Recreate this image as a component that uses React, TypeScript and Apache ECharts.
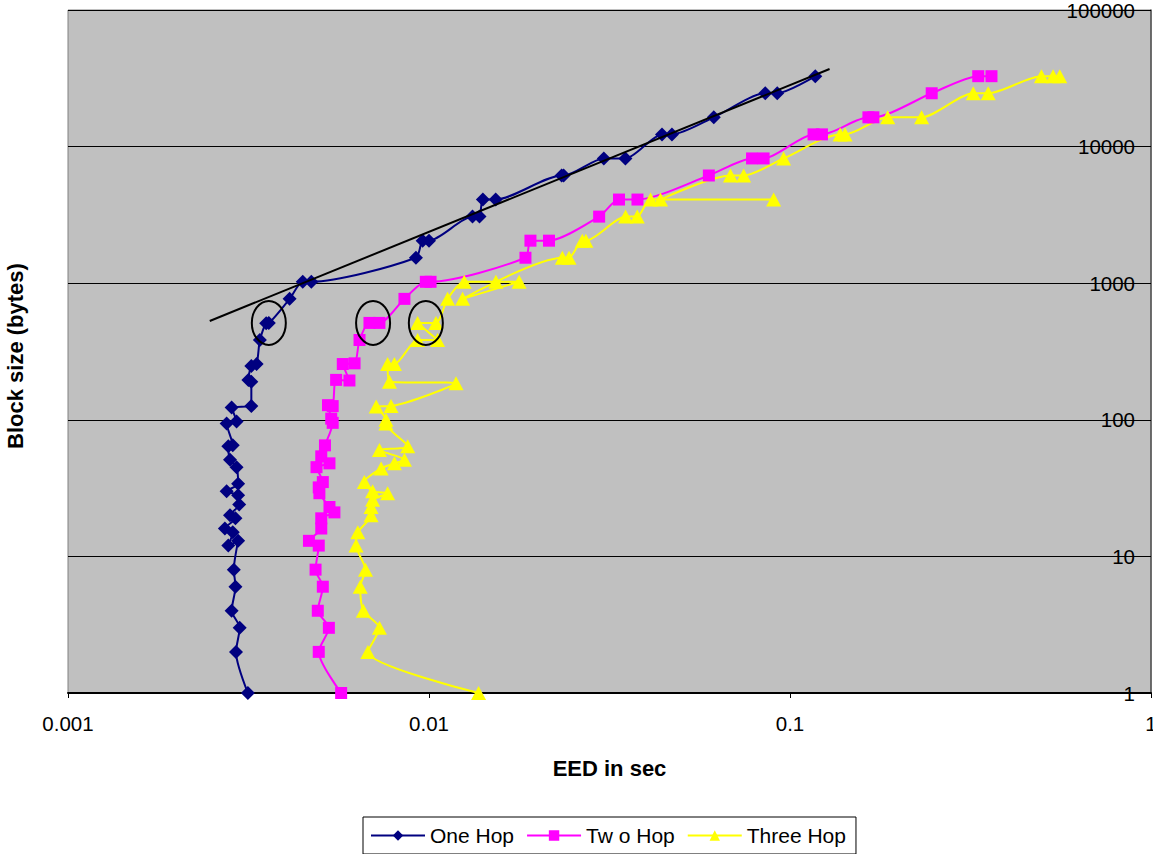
import React, { useEffect, useRef } from "react";
import * as echarts from "echarts";

// End-to-end delay (seconds) against block size (bytes), one row per measurement, in plotting order.
const oneHopEed = [
  0.00315, 0.00292, 0.00299, 0.00284, 0.00291, 0.00288, 0.00296, 0.00278, 0.00286, 0.00272,
  0.00291, 0.00281, 0.00298, 0.00296, 0.00275, 0.00296, 0.00293, 0.00281, 0.00278, 0.00286,
  0.00275, 0.00293, 0.00284, 0.00322, 0.00322, 0.00316, 0.00322, 0.00333, 0.0034, 0.00354,
  0.0036, 0.00411, 0.00447, 0.00472, 0.0092, 0.0096, 0.01, 0.0132, 0.0138, 0.0141,
  0.0153, 0.0233, 0.0236, 0.0305, 0.035, 0.0442, 0.0471, 0.0615, 0.0854, 0.0922, 0.1175,
];
const oneHopBlock = [
  1, 2, 3, 4, 6, 8, 13, 12, 15, 16,
  19, 20, 24, 28, 30, 34, 45, 51, 64, 65,
  94, 97, 123, 126, 190, 196, 248, 256, 384, 509,
  512, 768, 1024, 1024, 1536, 2048, 2048, 3072, 3072, 4096,
  4096, 6144, 6144, 8192, 8192, 12288, 12288, 16384, 24576, 24576, 32768,
];

const twoHopEed = [
  0.00571, 0.00495, 0.00528, 0.00492, 0.00508, 0.00485, 0.00495, 0.00465, 0.00503, 0.00503,
  0.00547, 0.0053, 0.00497, 0.00495, 0.00508, 0.00488, 0.0053, 0.00503, 0.00515, 0.00541,
  0.00536, 0.00525, 0.00541, 0.00553, 0.00602, 0.00577, 0.00622, 0.00642, 0.00684, 0.00729,
  0.00855, 0.0098, 0.0101, 0.0185, 0.0191, 0.0215, 0.0296, 0.0336, 0.0378, 0.0596,
  0.0785, 0.0845, 0.1162, 0.1226, 0.1649, 0.1702, 0.2469, 0.3322, 0.3615,
];
const twoHopBlock = [
  1, 2, 3, 4, 6, 8, 12, 13, 16, 19,
  21, 23, 29, 32, 35, 45, 48, 54, 65, 95,
  102, 128, 126, 196, 194, 256, 259, 384, 512, 512,
  768, 1024, 1024, 1536, 2048, 2048, 3072, 4096, 4096, 6144,
  8192, 8192, 12288, 12288, 16384, 16384, 24576, 32768, 32768,
];

const threeHopEed = [
  0.01372, 0.00677, 0.00729, 0.00658, 0.00645, 0.00667, 0.00628, 0.00635, 0.00691, 0.00691,
  0.00698, 0.00768, 0.00698, 0.00662, 0.00737, 0.00802, 0.00855, 0.00729, 0.00873, 0.0076,
  0.0076, 0.00714, 0.00785, 0.01188, 0.00777, 0.00768, 0.00802, 0.0093, 0.01056, 0.0093,
  0.01045, 0.01126, 0.01252, 0.01532, 0.01777, 0.01239, 0.02341, 0.02443, 0.02659, 0.0272,
  0.03504, 0.03775, 0.0411, 0.0901, 0.04378, 0.0684, 0.0744, 0.096, 0.1377, 0.1421,
  0.1865, 0.2315, 0.3218, 0.354, 0.4972, 0.5356, 0.5588,
];
const threeHopBlock = [
  1, 2, 3, 4, 6, 8, 12, 15, 20, 23,
  26, 29, 30, 35, 44, 48, 51, 60, 64, 94,
  100, 125, 126, 185, 190, 256, 256, 384, 384, 512,
  512, 768, 1024, 1024, 1024, 768, 1536, 1536, 2048, 2048,
  3072, 3072, 4096, 4096, 4096, 6144, 6144, 8192, 12288, 12288,
  16384, 16384, 24576, 24576, 32768, 32768, 32768,
];

// Straight reference line drawn along the one-hop trend.
const trendEed = [0.00247, 0.1287];
const trendBlock = [529, 36990];

// Points ringed at the 512-byte block size.
const circledEed = [0.0036, 0.0070, 0.0098];
const circledBlock = [512, 512, 512];

const seriesNames = ["One Hop", "Tw o Hop", "Three Hop"];
const xTicks = [0.001, 1];
const yTicks = [1, 100000];

const FONT = "'Liberation Sans', Arial, sans-serif";

const pairs = (xs: number[], ys: number[]) => xs.map((x, i) => [x, ys[i]]);
const fmt = (v: number) => String(Number(v.toPrecision(6)));

export default function App() {
  const ref = useRef<HTMLDivElement>(null);

  useEffect(() => {
    if (!ref.current) return;
    const chart = echarts.init(ref.current, null, { renderer: "svg" });

    const lineSeries = (
      name: string,
      xs: number[],
      ys: number[],
      color: string,
      symbol: string,
      size: number | number[]
    ) => ({
      name,
      type: "line",
      data: pairs(xs, ys),
      symbol,
      symbolSize: size,
      showAllSymbol: true,
      smooth: 0.25,
      lineStyle: { color, width: 2 },
      itemStyle: { color, borderWidth: 0 },
      emphasis: { disabled: true },
    });

    chart.setOption({
      animation: false,
      backgroundColor: "#ffffff",
      textStyle: { fontFamily: FONT },
      grid: {
        left: 68,
        right: 2,
        top: 10,
        bottom: 161,
        outerBoundsMode: "none",
        containLabel: false,
        show: true,
        backgroundColor: "#C0C0C0",
        borderColor: "#808080",
        borderWidth: 1,
      },
      legend: {
        data: seriesNames,
        left: 363,
        top: 817,
        orient: "horizontal",
        itemWidth: 54,
        itemHeight: 13,
        itemGap: 12,
        padding: [8, 10, 8, 7],
        borderColor: "#000",
        borderWidth: 1,
        backgroundColor: "#fff",
        textStyle: { fontSize: 21, color: "#000", fontFamily: FONT },
      },
      xAxis: {
        type: "log",
        logBase: 10,
        min: xTicks[0],
        max: xTicks[1],
        name: "EED in sec",
        nameLocation: "middle",
        nameGap: 64,
        nameTextStyle: { fontSize: 22, fontWeight: "bold", color: "#000", fontFamily: FONT },
        axisLine: { show: true, lineStyle: { color: "#000", width: 2 } },
        axisTick: { show: true, length: 5, lineStyle: { color: "#000", width: 1 } },
        axisLabel: { fontSize: 20.5, color: "#000", margin: 20, fontFamily: FONT, formatter: fmt },
        splitLine: { show: false },
        minorTick: { show: false },
      },
      yAxis: {
        type: "log",
        logBase: 10,
        min: yTicks[0],
        max: yTicks[1],
        position: "right",
        axisLine: { show: true, lineStyle: { color: "#555", width: 1.5 } },
        axisTick: { show: true, inside: true, length: 6, lineStyle: { color: "#000", width: 1 } },
        axisLabel: {
          inside: true,
          fontSize: 20.5,
          color: "#000",
          margin: 16,
          fontFamily: FONT,
          formatter: fmt,
        },
        splitLine: { show: true, lineStyle: { color: "#000", width: 1 } },
      },
      series: [
        lineSeries(seriesNames[0], oneHopEed, oneHopBlock, "#000080", "diamond", 14),
        lineSeries(seriesNames[1], twoHopEed, twoHopBlock, "#FF00FF", "rect", 12),
        lineSeries(seriesNames[2], threeHopEed, threeHopBlock, "#FFFF00", "triangle", [15, 14]),
        {
          name: "trend",
          type: "line",
          data: pairs(trendEed, trendBlock),
          symbol: "none",
          lineStyle: { color: "#000", width: 2 },
          z: 5,
          emphasis: { disabled: true },
        },
      ],
    });

    const rings = circledEed.map((x, i) => {
      const p = chart.convertToPixel({ xAxisIndex: 0, yAxisIndex: 0 }, [x, circledBlock[i]]) as number[];
      return {
        type: "ellipse",
        z: 100,
        shape: { cx: p[0], cy: p[1], rx: 17, ry: 22 },
        style: { fill: "none", stroke: "#000", lineWidth: 2 },
      };
    });

    chart.setOption({
      graphic: {
        elements: [
          ...rings,
          {
            type: "text",
            z: 100,
            x: 15,
            y: 356,
            rotation: Math.PI / 2,
            style: {
              text: "Block size (bytes)",
              fontSize: 22,
              fontWeight: "bold",
              fontFamily: FONT,
              fill: "#000",
              align: "center",
              verticalAlign: "middle",
            },
          },
        ],
      },
    });

    return () => chart.dispose();
  }, []);

  return (
    <div
      ref={ref}
      style={{ position: "absolute", left: 0, top: 0, width: 1153, height: 854 }}
    />
  );
}
